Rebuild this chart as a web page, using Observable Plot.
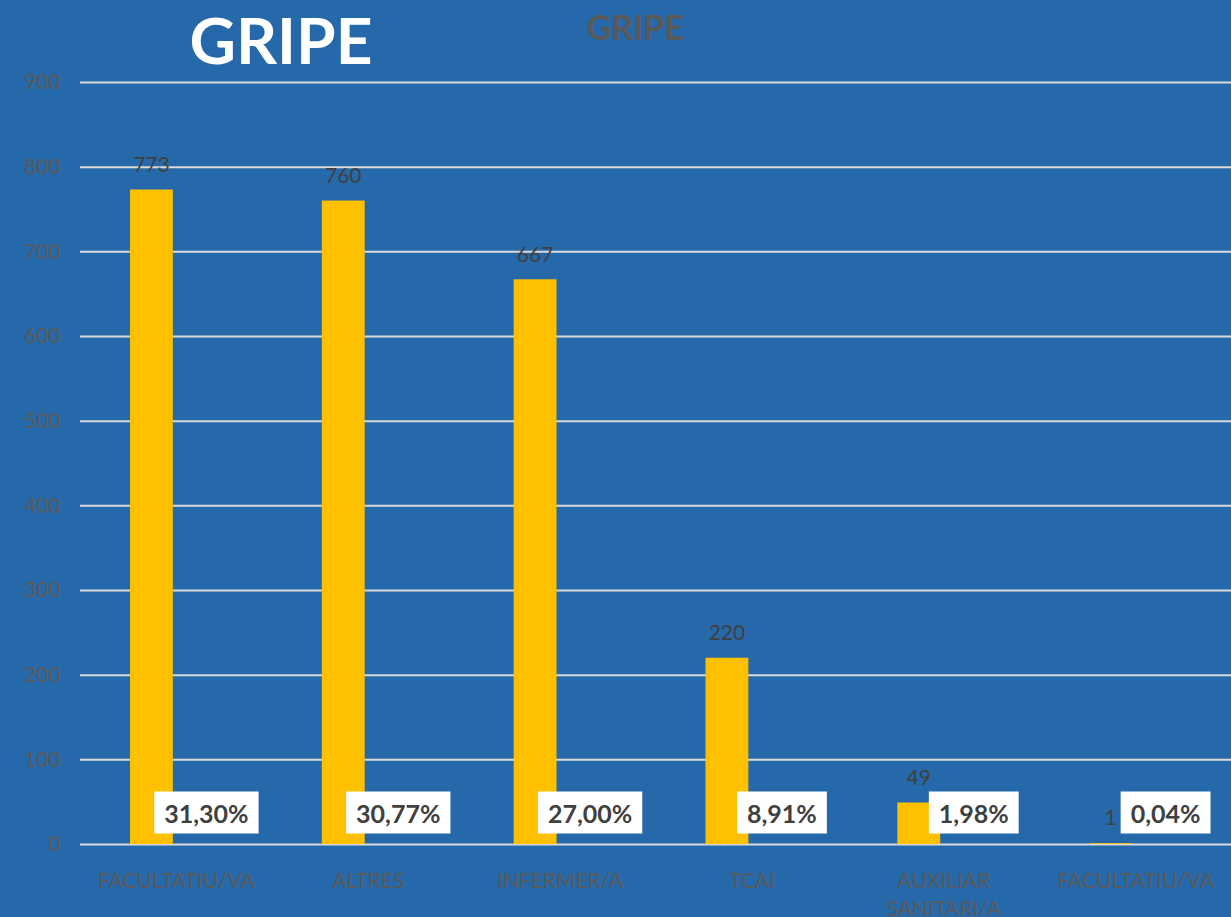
<!DOCTYPE html>
<html><head><meta charset="utf-8">
<script src="https://cdn.jsdelivr.net/npm/d3@7"></script>
<script src="https://cdn.jsdelivr.net/npm/@observablehq/plot@0.6"></script>
<style>
body{margin:0;background:#2669AA;}
#wrap{position:relative;width:1231px;height:917px;background:#2669AA;overflow:hidden;font-family:Lato,sans-serif;}
.t{position:absolute;white-space:nowrap;font-weight:700;transform:translateX(-50%);}
#t1{left:281px;top:8px;font-size:64px;line-height:64px;color:#ffffff;}
#t2{left:635px;top:10px;font-size:34px;line-height:34px;color:#595959;}
#chart{position:absolute;left:0;top:0;}
</style></head><body>
<div id="wrap"><div id="chart"></div><div class="t" id="t1">GRIPE</div><div class="t" id="t2">GRIPE</div></div>
<script>
const categories = ["FACULTATIU/VA", "ALTRES", "INFERMER/A", "TCAI", "AUXILIAR\nSANITARI/A", "FACULTATIU/VA"];
const counts = [773, 760, 667, 220, 49, 1];
const shares = [31.30, 30.77, 27.00, 8.91, 1.98, 0.04];
const yTicks = [0, 100, 200, 300, 400, 500, 600, 700, 800, 900];

const data = categories.map((c, i) => ({i, c, n: counts[i], p: shares[i]}));
const fmtPct = v => v.toFixed(2).replace(".", ",") + "%";

const plot = Plot.plot({
  width: 1231, height: 917,
  marginTop: 82, marginBottom: 73, marginLeft: 80, marginRight: 0,
  style: {background: "transparent", fontFamily: "Lato, sans-serif", fontSize: "21px", color: "#595959"},
  x: {type: "band", domain: data.map(d => d.i), padding: 0, round: false},
  y: {domain: [0, 900]},
  marks: [
    Plot.ruleY(yTicks, {stroke: "#D9D9D9", strokeWidth: 2}),
    Plot.barY(data, {x: "i", y: "n", fill: "#FFC000", insetLeft: 50, insetRight: 99}),
    Plot.axisY({ticks: yTicks, tickSize: 0, tickPadding: 20, label: null, fill: "#595959", fontSize: 21}),
    Plot.axisX({tickSize: 0, tickPadding: 24, label: null, tickFormat: i => categories[i], fill: "#595959", fontSize: 21, lineHeight: 1.33}),
    Plot.text(data, {x: "i", y: "n", text: d => String(d.n), dx: -25, dy: -25, fill: "#404040", fontSize: 21}),
    Plot.text(data, {x: "i", y: 0, text: d => fmtPct(d.p), dx: 30, dy: -30, fill: "#404040", fontSize: 25, fontWeight: "bold"})
  ]
});
document.getElementById("chart").append(plot);

const gs = plot.querySelectorAll('g[aria-label="text"]');
const pg = gs[gs.length - 1];
pg.querySelectorAll("text").forEach(t => {
  const b = t.getBBox();
  const r = document.createElementNS("http://www.w3.org/2000/svg", "rect");
  r.setAttribute("x", b.x - 10);
  r.setAttribute("y", b.y - 6);
  r.setAttribute("width", b.width + 20);
  r.setAttribute("height", b.height + 12);
  r.setAttribute("fill", "#ffffff");
  if (t.getAttribute("transform")) r.setAttribute("transform", t.getAttribute("transform"));
  pg.insertBefore(r, t);
});
</script>
</body></html>
